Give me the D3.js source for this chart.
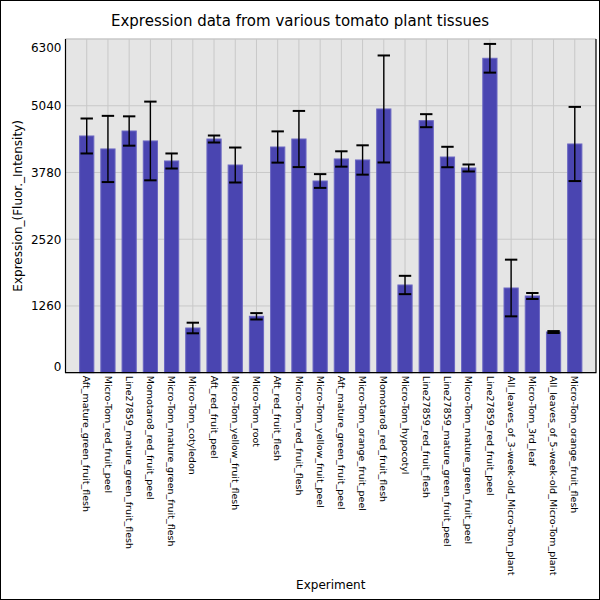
<!DOCTYPE html>
<html>
<head>
<meta charset="utf-8">
<script src="https://cdn.jsdelivr.net/npm/d3@7"></script>
<style>
  body { margin: 0; background: #fff; }
  svg { display: block; font-family: "DejaVu Sans", sans-serif; }
</style>
</head>
<body>
<div id="chart"></div>
<script>
// Experiments (x categories), in the order they are plotted
const experiments = [
    'Aft_mature_green_fruit_flesh',
    'Micro-Tom_red_fruit_peel',
    'Line27859_mature_green_fruit_flesh',
    'Momotaro8_red_fruit_peel',
    'Micro-Tom_mature_green_fruit_flesh',
    'Micro-Tom_cotyledon',
    'Aft_red_fruit_peel',
    'Micro-Tom_yellow_fruit_flesh',
    'Micro-Tom_root',
    'Aft_red_fruit_flesh',
    'Micro-Tom_red_fruit_flesh',
    'Micro-Tom_yellow_fruit_peel',
    'Aft_mature_green_fruit_peel',
    'Micro-Tom_orange_fruit_peel',
    'Momotaro8_red_fruit_flesh',
    'Micro-Tom_hypocotyl',
    'Line27859_red_fruit_flesh',
    'Line27859_mature_green_fruit_peel',
    'Micro-Tom_mature_green_fruit_peel',
    'Line27859_red_fruit_peel',
    'All_leaves_of_3-week-old_Micro-Tom_plant',
    'Micro-Tom_3rd_leaf',
    'All_leaves_of_5-week-old_Micro-Tom_plant',
    'Micro-Tom_orange_fruit_flesh'
];

// Mean expression and error
const expression = [4469, 4224, 4563, 4375, 3997, 844, 4412, 3921, 1065, 4261, 4412, 3619,
                    4035, 4016, 4979, 1656, 4758, 4072, 3865, 5936, 1599, 1448, 768, 4318];
const errors = [330, 625, 277, 743, 142, 100, 66, 330, 60, 295, 530, 130,
                145, 277, 1010, 173, 123, 193, 66, 271, 535, 57, 18, 700];

const yTicks = [0, 1260, 2520, 3780, 5040, 6300];

const W = 600, H = 600;
const plot = { left: 65.5, right: 596, top: 39, bottom: 372.7 };

const svg = d3.select('#chart')
    .append('svg')
    .attr('width', W)
    .attr('height', H);

// white figure with thin black frame
svg.append('rect')
    .attr('x', 0.5).attr('y', 0.5)
    .attr('width', W - 1).attr('height', H - 1)
    .attr('fill', '#fff')
    .attr('stroke', '#000');

// index scale: one unit per bar, half a band of margin on each side
const x = d3.scaleLinear()
    .domain([-1, experiments.length])
    .range([plot.left, plot.right]);
const barW = 0.67;

const y = d3.scaleLinear()
    .domain([0, 6300])
    .range([plot.bottom, plot.top]);

// plot background
svg.append('rect')
    .attr('x', plot.left).attr('y', plot.top)
    .attr('width', plot.right - plot.left)
    .attr('height', plot.bottom - plot.top)
    .attr('fill', '#e5e5e5');

// grid lines
svg.append('g')
    .selectAll('line')
    .data(yTicks)
    .enter()
    .append('line')
    .attr('x1', plot.left).attr('x2', plot.right)
    .attr('y1', d => y(d)).attr('y2', d => y(d))
    .attr('stroke', '#c8c8c8')
    .attr('stroke-width', 1);

svg.append('g')
    .selectAll('line')
    .data(experiments)
    .enter()
    .append('line')
    .attr('x1', (d, i) => x(i)).attr('x2', (d, i) => x(i))
    .attr('y1', plot.top).attr('y2', plot.bottom)
    .attr('stroke', '#c8c8c8')
    .attr('stroke-width', 1);

// bars
svg.append('g')
    .selectAll('rect')
    .data(expression)
    .enter()
    .append('rect')
    .attr('x', (d, i) => x(i - barW / 2))
    .attr('width', x(barW) - x(0))
    .attr('y', d => y(d))
    .attr('height', d => y(0) - y(d))
    .attr('fill', '#4a45b1')
    .attr('stroke', '#6b67c2')
    .attr('stroke-width', 1);

// error bars
const capW = 6.2;
const err = svg.append('g')
    .selectAll('g')
    .data(expression)
    .enter()
    .append('g');

err.append('line')
    .attr('x1', (d, i) => x(i)).attr('x2', (d, i) => x(i))
    .attr('y1', (d, i) => y(d + errors[i]))
    .attr('y2', (d, i) => y(d - errors[i]))
    .attr('stroke', '#000')
    .attr('stroke-width', 1.4);

[1, -1].forEach(sign => {
    err.append('line')
        .attr('x1', (d, i) => x(i) - capW).attr('x2', (d, i) => x(i) + capW)
        .attr('y1', (d, i) => y(d + sign * errors[i]))
        .attr('y2', (d, i) => y(d + sign * errors[i]))
        .attr('stroke', '#000')
        .attr('stroke-width', 2);
});

// frame: grey top, black left / bottom / right
svg.append('line')
    .attr('x1', plot.left).attr('x2', plot.right)
    .attr('y1', plot.top).attr('y2', plot.top)
    .attr('stroke', '#c8c8c8');
svg.append('path')
    .attr('d', `M${plot.left},${plot.top}V${plot.bottom}H${plot.right}V${plot.top}`)
    .attr('fill', 'none')
    .attr('stroke', '#000')
    .attr('stroke-width', 1.2);

// y axis labels (edge labels nudged inside like the original)
const yAxis = svg.append('g')
    .attr('transform', `translate(${plot.left},0)`)
    .call(d3.axisLeft(y).tickValues(yTicks).tickSize(0).tickPadding(4).tickFormat(d3.format('d')));
yAxis.select('.domain').remove();
yAxis.selectAll('text')
    .style('font-size', '12px')
    .style('font-family', '"DejaVu Sans", sans-serif')
    .attr('fill', '#000')
    .attr('dy', d => d === 0 ? '-0.18em' : d === 6300 ? '1.0em' : '0.32em');

// x labels, rotated to read downward
svg.append('g')
    .selectAll('text')
    .data(experiments)
    .enter()
    .append('text')
    .attr('transform', (d, i) => `translate(${x(i)},${plot.bottom + 3}) rotate(90)`)
    .attr('dy', '0.35em')
    .style('font-size', '9.5px')
    .text(d => d);

// titles
svg.append('text')
    .attr('x', W / 2).attr('y', 26)
    .attr('text-anchor', 'middle')
    .style('font-size', '15px')
    .text('Expression data from various tomato plant tissues');

svg.append('text')
    .attr('x', (plot.left + plot.right) / 2).attr('y', 589)
    .attr('text-anchor', 'middle')
    .style('font-size', '12px')
    .text('Experiment');

svg.append('text')
    .attr('transform', `translate(22,${(plot.top + plot.bottom) / 2}) rotate(-90)`)
    .attr('text-anchor', 'middle')
    .style('font-size', '12px')
    .text('Expression_(Fluor._Intensity)');
</script>
</body>
</html>
